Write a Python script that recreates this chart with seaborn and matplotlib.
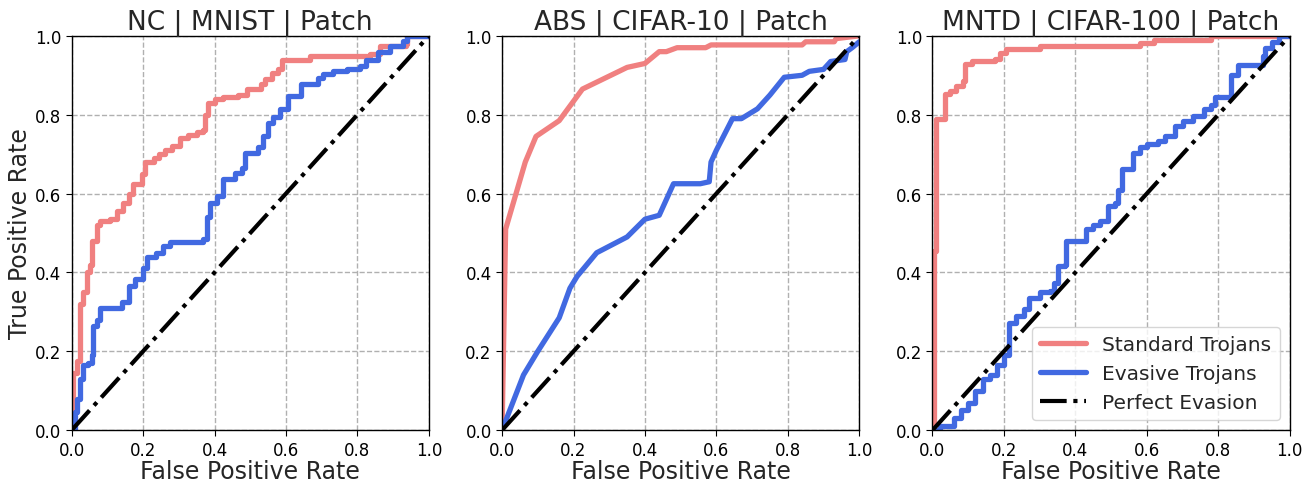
import matplotlib
matplotlib.use("Agg")
import matplotlib.pyplot as plt
import seaborn as sns
import pandas as pd

# ROC points (fpr, tpr)
NC_STD_FPR = [0, 0.005, 0.014, 0.023, 0.033, 0.042, 0.051, 0.056, 0.07, 0.08,
              0.107, 0.126, 0.145, 0.16, 0.173, 0.196, 0.205, 0.23, 0.245, 0.26,
              0.28, 0.303, 0.326, 0.35, 0.368, 0.372, 0.382, 0.40, 0.424, 0.466,
              0.49, 0.53, 0.54, 0.56, 0.578, 0.59, 0.667, 0.835, 0.863, 0.937,
              0.94, 1.0]
NC_STD_TPR = [0, 0.146, 0.176, 0.32, 0.35, 0.40, 0.42, 0.48, 0.52, 0.53,
              0.535, 0.556, 0.577, 0.60, 0.624, 0.65, 0.68, 0.69, 0.70, 0.71,
              0.72, 0.742, 0.748, 0.755, 0.762, 0.80, 0.83, 0.84, 0.845, 0.85,
              0.865, 0.877, 0.89, 0.907, 0.915, 0.94, 0.95, 0.953, 0.975, 0.98,
              1.0, 1.0]
NC_EVA_FPR = [0, 0.01, 0.014, 0.023, 0.033, 0.047, 0.056, 0.06, 0.07, 0.08,
              0.14, 0.16, 0.177, 0.2, 0.21, 0.237, 0.256, 0.275, 0.368, 0.378,
              0.387, 0.406, 0.424, 0.457, 0.476, 0.485, 0.522, 0.536, 0.55, 0.564,
              0.583, 0.606, 0.643, 0.69, 0.704, 0.732, 0.77, 0.807, 0.825, 0.858,
              0.89, 0.928, 0.94, 1.0]
NC_EVA_TPR = [0, 0.045, 0.08, 0.13, 0.165, 0.17, 0.19, 0.265, 0.28, 0.31,
              0.325, 0.365, 0.383, 0.41, 0.44, 0.45, 0.467, 0.476, 0.484, 0.54,
              0.577, 0.594, 0.636, 0.653, 0.666, 0.704, 0.717, 0.746, 0.78, 0.793,
              0.814, 0.848, 0.877, 0.894, 0.903, 0.91, 0.917, 0.924, 0.94, 0.958,
              0.975, 0.987, 1.0, 1.0]

ABS_STD_FPR = [0, 0.01, 0.065, 0.095, 0.16, 0.225, 0.35, 0.40, 0.44, 0.46,
               0.49, 0.57, 0.585, 0.84, 0.85, 0.93, 0.935, 1.0]
ABS_STD_TPR = [0, 0.51, 0.68, 0.745, 0.785, 0.865, 0.92, 0.93, 0.96, 0.96,
               0.97, 0.97, 0.977, 0.977, 0.985, 0.985, 0.993, 1.0]
ABS_EVA_FPR = [0, 0.06, 0.1, 0.16, 0.19, 0.21, 0.265, 0.35, 0.4, 0.44,
               0.48, 0.555, 0.58, 0.585, 0.6, 0.645, 0.67, 0.715, 0.75, 0.79,
               0.84, 0.86, 0.9, 0.92, 0.96, 0.965, 0.98, 1.0]
ABS_EVA_TPR = [0, 0.14, 0.2, 0.285, 0.36, 0.39, 0.45, 0.49, 0.535, 0.545,
               0.625, 0.625, 0.63, 0.68, 0.71, 0.79, 0.79, 0.815, 0.85, 0.895,
               0.9, 0.91, 0.915, 0.935, 0.94, 0.96, 0.97, 0.985]

MNTD_STD_FPR = [0, 0.005, 0.01, 0.035, 0.05, 0.065, 0.085, 0.09, 0.11, 0.175,
                0.19, 0.205, 0.30, 0.58, 0.62, 0.78, 1.0]
MNTD_STD_TPR = [0, 0.455, 0.79, 0.852, 0.86, 0.873, 0.886, 0.928, 0.935, 0.941,
                0.956, 0.966, 0.975, 0.983, 0.99, 1.0, 1.0]
MNTD_EVA_FPR = [0, 0.02, 0.06, 0.08, 0.1, 0.12, 0.14, 0.16, 0.18, 0.2,
                0.215, 0.235, 0.255, 0.27, 0.3, 0.33, 0.34, 0.35, 0.37, 0.375,
                0.43, 0.45, 0.47, 0.49, 0.51, 0.52, 0.53, 0.56, 0.58, 0.6,
                0.63, 0.65, 0.68, 0.7, 0.73, 0.76, 0.78, 0.79, 0.835, 0.855,
                0.925, 0.93, 0.95, 0.97, 1.0]
MNTD_EVA_TPR = [0, 0.01, 0.03, 0.05, 0.07, 0.1, 0.13, 0.14, 0.165, 0.19,
                0.273, 0.29, 0.307, 0.336, 0.35, 0.353, 0.374, 0.417, 0.42, 0.48,
                0.51, 0.52, 0.531, 0.569, 0.575, 0.61, 0.662, 0.704, 0.717, 0.725,
                0.734, 0.746, 0.772, 0.784, 0.797, 0.814, 0.825, 0.844, 0.9, 0.926,
                0.95, 0.97, 0.985, 1.0, 1.0]

DIAG = [0.0, 1.0]
TITLES = ["NC | MNIST | Patch", "ABS | CIFAR-10 | Patch", "MNTD | CIFAR-100 | Patch"]
LABELS = ["Standard Trojans", "Evasive Trojans", "Perfect Evasion"]
TICKS = [0.0, 0.2, 0.4, 0.6, 0.8, 1.0]

panels = [
    (NC_STD_FPR, NC_STD_TPR, NC_EVA_FPR, NC_EVA_TPR, "steps-post"),
    (ABS_STD_FPR, ABS_STD_TPR, ABS_EVA_FPR, ABS_EVA_TPR, "default"),
    (MNTD_STD_FPR, MNTD_STD_TPR, MNTD_EVA_FPR, MNTD_EVA_TPR, "steps-post"),
]

sns.set_style("ticks", {"axes.grid": True, "grid.linestyle": "--",
                        "grid.color": "#b0b0b0", "axes.edgecolor": "black",
                        "xtick.color": "black", "ytick.color": "black"})
plt.rcParams["font.family"] = ["DejaVu Sans"]

fig, axes = plt.subplots(1, 3, figsize=(13.12, 4.85), dpi=100)
fig.subplots_adjust(left=0.0546, right=0.983, top=0.924, bottom=0.111, wspace=0.205)

for ax, (sx, sy, ex, ey, ds), title in zip(axes, panels, TITLES):
    std = pd.DataFrame({"fpr": sx, "tpr": sy})
    eva = pd.DataFrame({"fpr": ex, "tpr": ey})
    sns.lineplot(data=std, x="fpr", y="tpr", ax=ax, color="lightcoral", lw=3.8,
                 estimator=None, sort=False, drawstyle=ds, label=LABELS[0])
    sns.lineplot(data=eva, x="fpr", y="tpr", ax=ax, color="royalblue", lw=3.8,
                 estimator=None, sort=False, drawstyle=ds, label=LABELS[1])
    sns.lineplot(x=DIAG, y=DIAG, ax=ax, color="black", lw=3, linestyle="-.",
                 estimator=None, sort=False, label=LABELS[2])
    ax.set_xlim(0, 1)
    ax.set_ylim(0, 1)
    ax.set_xticks(TICKS)
    ax.set_yticks(TICKS)
    ax.tick_params(labelsize=12, length=4)
    ax.grid(True, linestyle="--", color="#b0b0b0", lw=1)
    ax.set_title(title, fontsize=19, pad=4)
    ax.set_xlabel("False Positive Rate", fontsize=17, labelpad=0.5)
    ax.set_ylabel("")
    for s in ax.spines.values():
        s.set_color("black")
        s.set_linewidth(1)
    ax.get_legend().remove()

axes[0].set_ylabel("True Positive Rate", fontsize=17, labelpad=2)
axes[2].legend(loc="lower right", fontsize=14.5, handlelength=2.3)

fig.savefig("out.png", dpi=100)
